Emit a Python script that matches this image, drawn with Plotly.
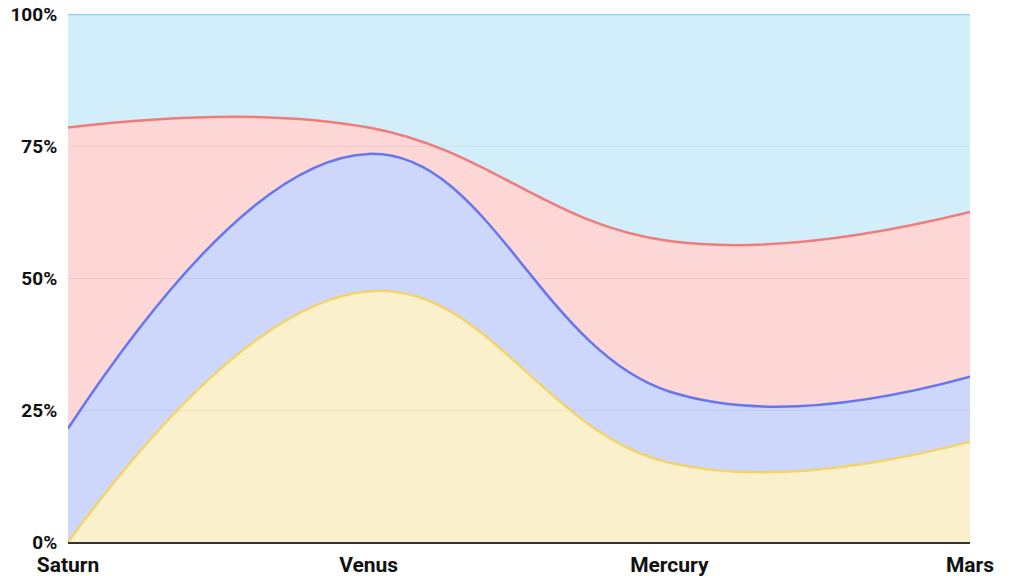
import plotly.graph_objects as go

categories = ["Saturn", "Venus", "Mercury", "Mars"]
yellow_vals = [0, 47.5, 15, 19]
blue_vals = [21.5, 26, 13.5, 12.3]
red_vals = [57, 5, 28.5, 31.2]
sky_vals = [21.5, 21.5, 43, 37.5]

series = [
    ("Yellow", yellow_vals, "#F2D46A", "rgba(248,232,176,0.65)"),
    ("Blue", blue_vals, "#6677EE", "rgba(184,196,250,0.7)"),
    ("Red", red_vals, "#EE7C7A", "rgba(252,196,196,0.7)"),
    ("Sky", sky_vals, "#8FD3F2", "rgba(196,232,250,0.75)"),
]

fig = go.Figure()
for name, vals, lc, fc in series:
    fig.add_trace(go.Scatter(
        x=categories, y=vals, name=name, mode="lines",
        stackgroup="one", groupnorm="percent",
        line=dict(color=lc, width=2.5, shape="spline", smoothing=1.2),
        fillcolor=fc, hoverinfo="skip",
    ))

fig.update_layout(
    width=1010, height=576,
    margin=dict(l=68, r=40, t=14, b=34),
    paper_bgcolor="white", plot_bgcolor="white",
    showlegend=False,
    font=dict(family="Roboto", size=19, color="#111"),
)
fig.update_xaxes(
    range=[0, 3], showgrid=False, showline=True, linecolor="#333", linewidth=1.5,
    automargin=False,
    ticks="outside", ticklen=3, tickcolor="rgba(0,0,0,0)",
    tickfont=dict(family="Roboto", size=21, color="#111", weight="bold"),
)
fig.update_yaxes(
    range=[0, 100], tickvals=[0, 25, 50, 75, 100],
    ticktext=["0%", "25%", "50%", "75%", "100%"],
    showgrid=True, gridcolor="rgba(200,200,200,0.7)", zeroline=False,
    automargin=False,
    ticks="outside", ticklen=6, tickcolor="rgba(0,0,0,0)",
    tickfont=dict(family="Roboto", size=19, color="#111", weight="bold"),
)
fig.write_html("out.html", config={"displayModeBar": False},
               post_script="document.body.style.margin='0px';")
